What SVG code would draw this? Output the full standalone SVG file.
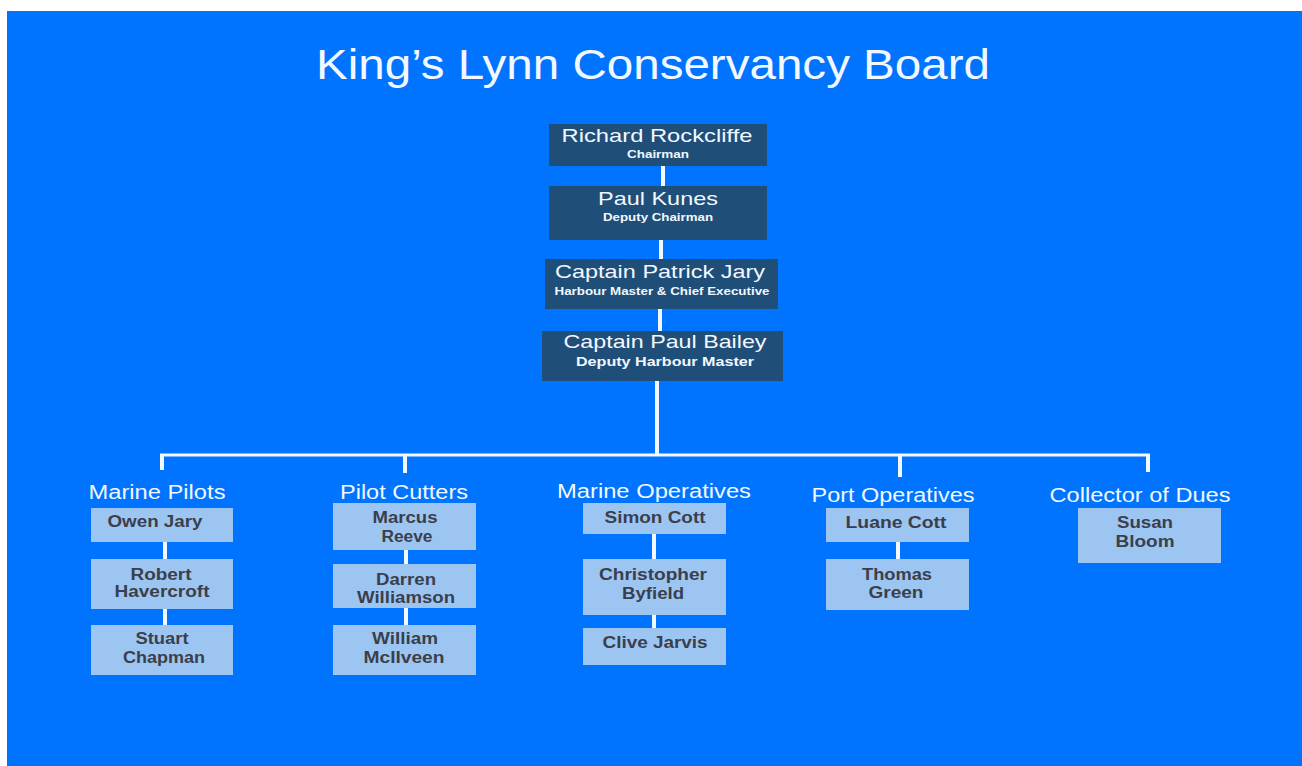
<svg xmlns="http://www.w3.org/2000/svg" width="1302" height="766" viewBox="0 0 1302 766">
<style>
.bg{fill:#0074FE}
.dk{fill:#1F4E79}
.lt{fill:#9DC5F2}
.conn line{stroke:#F2F8FF;stroke-width:4;stroke-linecap:butt}
text{font-family:"Liberation Sans",Arial,sans-serif;text-anchor:middle}
.title{fill:#F2F8FF;font-size:42px}
.nm{fill:#F2F8FF;font-size:19px}
.rl{fill:#F2F8FF;font-size:11px;font-weight:bold}
.grp{fill:#F2F8FF;font-size:20px}
.bx{fill:#3A3F4B;font-size:16px;font-weight:bold}
</style>
<rect x="0" y="0" width="1302" height="766" fill="#FFFFFF"/>
<rect class="bg" x="7" y="11" width="1295" height="755"/>
<text class="title" x="653" y="79" textLength="674" lengthAdjust="spacingAndGlyphs">King’s Lynn Conservancy Board</text>

<g class="conn" id="connectors">
<line x1="663" y1="166" x2="663" y2="186"/>
<line x1="661" y1="240" x2="661" y2="259"/>
<line x1="660" y1="309" x2="660" y2="331"/>
<line x1="657" y1="381" x2="657" y2="455"/>
<line x1="160" y1="455" x2="1150" y2="455" style="stroke-width:3"/>
<line x1="162" y1="454" x2="162" y2="470"/>
<line x1="405" y1="454" x2="405" y2="473"/>
<line x1="900" y1="454" x2="900" y2="477"/>
<line x1="1148" y1="454" x2="1148" y2="472"/>
<line x1="165" y1="542" x2="165" y2="559"/>
<line x1="165" y1="609" x2="165" y2="625"/>
<line x1="406" y1="550" x2="406" y2="564"/>
<line x1="406" y1="608" x2="406" y2="625"/>
<line x1="654" y1="534" x2="654" y2="559"/>
<line x1="654" y1="615" x2="654" y2="628"/>
<line x1="898" y1="542" x2="898" y2="559"/>
</g>

<g id="rockcliffe">
<rect class="dk" x="549" y="124" width="218" height="42"/>
<text class="nm" x="657" y="142" textLength="191" lengthAdjust="spacingAndGlyphs">Richard Rockcliffe</text>
<text class="rl" x="658" y="158" textLength="62" lengthAdjust="spacingAndGlyphs">Chairman</text>
</g>
<g id="kunes">
<rect class="dk" x="549" y="186" width="218" height="54"/>
<text class="nm" x="658" y="205" textLength="120" lengthAdjust="spacingAndGlyphs">Paul Kunes</text>
<text class="rl" x="658" y="221" textLength="110" lengthAdjust="spacingAndGlyphs">Deputy Chairman</text>
</g>
<g id="pjary">
<rect class="dk" x="545" y="259" width="233" height="50"/>
<text class="nm" x="660" y="278" textLength="210" lengthAdjust="spacingAndGlyphs">Captain Patrick Jary</text>
<text class="rl" x="662" y="295" textLength="215" lengthAdjust="spacingAndGlyphs">Harbour Master &amp; Chief Executive</text>
</g>
<g id="bailey">
<rect class="dk" x="542" y="331" width="241" height="50"/>
<text class="nm" x="665" y="348" textLength="203" lengthAdjust="spacingAndGlyphs">Captain Paul Bailey</text>
<text class="rl" x="665" y="366" style="font-size:12px" textLength="178" lengthAdjust="spacingAndGlyphs">Deputy Harbour Master</text>
</g>

<g id="g-marine-pilots">
<text class="grp" x="157" y="499" textLength="137" lengthAdjust="spacingAndGlyphs">Marine Pilots</text>
</g>
<g id="g-pilot-cutters">
<text class="grp" x="404" y="499" textLength="128" lengthAdjust="spacingAndGlyphs">Pilot Cutters</text>
</g>
<g id="g-marine-operatives">
<text class="grp" x="654" y="498" textLength="194" lengthAdjust="spacingAndGlyphs">Marine Operatives</text>
</g>
<g id="g-port-operatives">
<text class="grp" x="893" y="502" textLength="163" lengthAdjust="spacingAndGlyphs">Port Operatives</text>
</g>
<g id="g-collector">
<text class="grp" x="1140" y="502" textLength="181" lengthAdjust="spacingAndGlyphs">Collector of Dues</text>
</g>

<g id="owen-jary">
<rect class="lt" x="91" y="508" width="142" height="34"/>
<text class="bx" x="155" y="527" textLength="95" lengthAdjust="spacingAndGlyphs">Owen Jary</text>
</g>
<g id="robert-havercroft">
<rect class="lt" x="91" y="559" width="142" height="50"/>
<text class="bx" x="161" y="580" textLength="61" lengthAdjust="spacingAndGlyphs">Robert</text>
<text class="bx" x="162" y="597" textLength="95" lengthAdjust="spacingAndGlyphs">Havercroft</text>
</g>
<g id="stuart-chapman">
<rect class="lt" x="91" y="625" width="142" height="50"/>
<text class="bx" x="162" y="644" textLength="53" lengthAdjust="spacingAndGlyphs">Stuart</text>
<text class="bx" x="164" y="663" textLength="82" lengthAdjust="spacingAndGlyphs">Chapman</text>
</g>

<g id="marcus-reeve">
<rect class="lt" x="333" y="503" width="143" height="47"/>
<text class="bx" x="405" y="523" textLength="65" lengthAdjust="spacingAndGlyphs">Marcus</text>
<text class="bx" x="407" y="542" textLength="51" lengthAdjust="spacingAndGlyphs">Reeve</text>
</g>
<g id="darren-williamson">
<rect class="lt" x="333" y="564" width="143" height="44"/>
<text class="bx" x="406" y="585" textLength="60" lengthAdjust="spacingAndGlyphs">Darren</text>
<text class="bx" x="406" y="603" textLength="98" lengthAdjust="spacingAndGlyphs">Williamson</text>
</g>
<g id="william-mcilveen">
<rect class="lt" x="333" y="625" width="143" height="50"/>
<text class="bx" x="405" y="644" textLength="66" lengthAdjust="spacingAndGlyphs">William</text>
<text class="bx" x="404" y="663" textLength="81" lengthAdjust="spacingAndGlyphs">McIlveen</text>
</g>

<g id="simon-cott">
<rect class="lt" x="583" y="503" width="143" height="31"/>
<text class="bx" x="655" y="523" textLength="101" lengthAdjust="spacingAndGlyphs">Simon Cott</text>
</g>
<g id="christopher-byfield">
<rect class="lt" x="583" y="559" width="143" height="56"/>
<text class="bx" x="653" y="580" textLength="108" lengthAdjust="spacingAndGlyphs">Christopher</text>
<text class="bx" x="653" y="599" textLength="62" lengthAdjust="spacingAndGlyphs">Byfield</text>
</g>
<g id="clive-jarvis">
<rect class="lt" x="583" y="628" width="143" height="37"/>
<text class="bx" x="655" y="648" textLength="105" lengthAdjust="spacingAndGlyphs">Clive Jarvis</text>
</g>

<g id="luane-cott">
<rect class="lt" x="826" y="508" width="143" height="34"/>
<text class="bx" x="896" y="528" textLength="101" lengthAdjust="spacingAndGlyphs">Luane Cott</text>
</g>
<g id="thomas-green">
<rect class="lt" x="826" y="559" width="143" height="51"/>
<text class="bx" x="897" y="580" textLength="70" lengthAdjust="spacingAndGlyphs">Thomas</text>
<text class="bx" x="896" y="598" textLength="55" lengthAdjust="spacingAndGlyphs">Green</text>
</g>

<g id="susan-bloom">
<rect class="lt" x="1078" y="508" width="143" height="55"/>
<text class="bx" x="1145" y="528" textLength="56" lengthAdjust="spacingAndGlyphs">Susan</text>
<text class="bx" x="1145" y="547" textLength="59" lengthAdjust="spacingAndGlyphs">Bloom</text>
</g>
</svg>
